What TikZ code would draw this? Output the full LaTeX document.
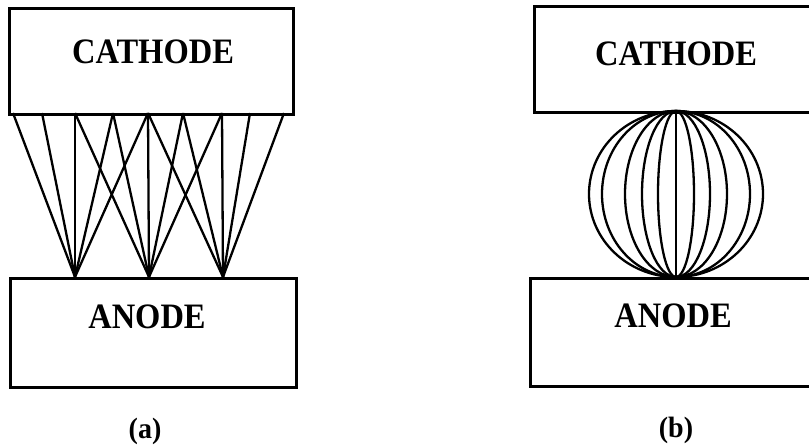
\documentclass[tikz,border=0pt]{standalone}
\usepackage{fontspec}
\usepackage{graphicx}
\setmainfont{Liberation Serif}
\begin{document}
\begin{tikzpicture}[x=1pt,y=-1pt,
  box/.style={draw, line width=3pt, inner sep=0pt, anchor=north west},
  ray/.style={line width=2.3pt},
  lab/.style={font=\fontsize{32.5}{32.5}\selectfont\bfseries, anchor=base, inner sep=0pt},
  figcap/.style={font=\fontsize{28}{28}\selectfont\bfseries, anchor=base, inner sep=0pt}]
\useasboundingbox (0,0) rectangle (809,447);
\clip (0,0) rectangle (809,447);
% ---------- panel (a) ----------
\node[box, minimum width=284pt, minimum height=106pt] (cathA) at (8,7) {};
\node[box, minimum width=286pt, minimum height=109pt] (anoA) at (9,277) {};
\node[lab] (tcathA) at (153,63) {\scalebox{1}[1.1]{CATHODE}};
\node[lab] (tanoA) at (147,328) {\scalebox{1}[1.1]{ANODE}};
\node[figcap] (capA) at (145,438) {\scalebox{1}[1.05]{(a)}};
% top points on the cathode
\foreach \n/\x in {1/13,2/42,3/75,4/113,5/148,6/183,7/222,8/250,9/284}
  \coordinate (t\n) at (\x,113);
% focal points on the anode
\coordinate (f1) at (75,277);
\coordinate (f2) at (149,277);
\coordinate (f3) at (223,277);
\foreach \n in {1,2,3,4,5} \draw[ray] (f1) -- (t\n);
\foreach \n in {3,4,5,6,7} \draw[ray] (f2) -- (t\n);
\foreach \n in {5,6,7,8,9} \draw[ray] (f3) -- (t\n);
% ---------- panel (b) ----------
\node[box, minimum width=300pt, minimum height=106pt] (cathB) at (533,5) {};
\node[box, minimum width=300pt, minimum height=108pt] (anoB) at (529,277) {};
\node[lab] (tcathB) at (676,65) {\scalebox{1}[1.1]{CATHODE}};
\node[lab] (tanoB) at (673,327) {\scalebox{1}[1.1]{ANODE}};
\node[figcap] (capB) at (676,437) {\scalebox{1}[1.05]{(b)}};
\coordinate (sc) at (676,194);
\coordinate (stop) at (676,111);
\coordinate (sbot) at (676,277);
\foreach \r in {87,74,51,34,18}
  \draw[ray] (sc) ellipse [x radius=\r pt, y radius=83pt];
\draw[ray] (stop) -- (sbot);
\end{tikzpicture}
\end{document}
